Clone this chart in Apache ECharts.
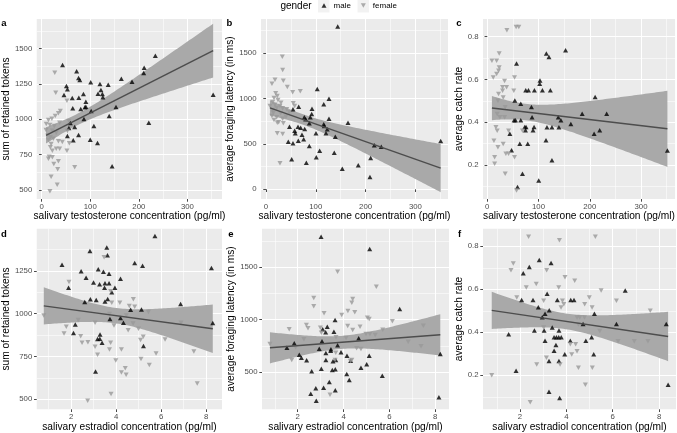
<!DOCTYPE html>
<html><head><meta charset="utf-8">
<script src="https://cdn.jsdelivr.net/npm/echarts@6/dist/echarts.min.js"></script>
<style>html,body{margin:0;padding:0;background:#fff}#c{width:677px;height:433px}</style>
</head><body><div id="c"></div>
<script>
// ---------- data (testosterone pg/ml, estradiol pg/ml, outcome) ----------
const aMale = [[43,1384],[234,1450],[211,1365],[210,1328],[72,1340],[76,1292],[78.5,1278],[51,1236],[53,1212],[46,1172],[63,1151],[76.5,1153],[86,1179],[101,1262],[120,1250],[137,1245],[164,1287],[186,1266],[122,1207],[125,1179],[116,1181],[126,1156],[91,1125],[91,1089],[89,1085],[64,1078],[80.5,1073],[102,1059],[153,1087],[139,1023],[87,1002],[59,974],[68,945],[107.5,953],[56,938],[53,882],[76,889],[65,851],[100,856],[115,832],[220.5,976],[353,1174],[145,667]];
const aFemale = [[27,1330],[29,1188],[52,1132],[38.5,1059],[34.5,1042],[28,1023],[21,1004],[14,995],[56,988],[37,976],[26,952],[17,960],[9,924],[22,919],[30,905],[53,917],[13,887],[18,872],[14,853],[24,863],[34.5,844],[42.5,839],[57,830],[19.5,825],[18,802],[30,791],[37,791],[22,778],[52,778],[15.5,735],[22,731],[34.5,703],[25,684],[14,721],[33,646],[68,660],[19.5,593],[32,537],[17,490],[9.5,967]];
const bMale = [[144,1794],[103,1106],[126.5,999],[116,938],[65.7,911],[54.2,882],[92.4,889],[91.8,831],[89,794],[126.5,779],[77,794],[79.7,772],[164.7,735],[87,728],[116,717],[117,698],[123,662],[64.3,690],[69.7,679],[47.2,690],[77.7,665],[57.6,646],[58.8,617],[100.4,617],[120.5,617],[139.2,580],[72.3,602],[75.7,552],[44.8,525],[64.9,536],[54.2,507],[87,478],[107.8,426],[137.1,404],[217.5,485],[231.5,470],[101,353],[210.2,345],[51.6,331],[81,293],[185.3,265],[153.2,227],[208.8,136],[350.8,533]];
const bFemale = [[32.8,1463],[33.5,1316],[18.1,1209],[34.8,1198],[12,1165],[42.8,1128],[53.6,1070],[68.9,1081],[19.5,1059],[22.7,1029],[16.1,1007],[24.1,985],[13.5,963],[30.1,955],[54.8,949],[57.6,919],[8,919],[18.1,933],[28.1,919],[33.5,893],[21.5,897],[13.5,875],[41.6,882],[29.5,838],[12,808],[21.5,794],[33.5,779],[40.2,801],[16.1,764],[22.7,735],[34.8,728],[22.7,617],[33.5,610],[28.1,287],[46.8,849],[14.7,845],[25.5,739]];
const cMale = [[152.8,0.736],[115.3,0.721],[120.4,0.705],[57.1,0.674],[102.9,0.595],[102.3,0.580],[75.1,0.549],[80.4,0.549],[92,0.549],[107.6,0.549],[123.1,0.549],[53.8,0.502],[65.4,0.487],[86.2,0.471],[87.4,0.423],[185.2,0.440],[138.6,0.423],[143.7,0.409],[163.1,0.392],[52.4,0.409],[55.1,0.409],[65.4,0.409],[73.2,0.378],[75.7,0.378],[74.6,0.363],[91.3,0.378],[89.3,0.363],[116.5,0.377],[126.2,0.377],[139.8,0.377],[44.1,0.347],[114.6,0.316],[63.5,0.300],[79,0.300],[47.4,0.270],[126.2,0.223],[68.7,0.160],[100.4,0.128],[59,0.098],[210.5,0.518],[233,0.44],[208.5,0.347],[219.4,0.363],[351.5,0.268]];
const cFemale = [[38.3,0.829],[56.3,0.845],[61.6,0.845],[23.3,0.721],[9.1,0.687],[18.3,0.687],[23.3,0.656],[22.1,0.640],[18.3,0.625],[11.7,0.609],[53.2,0.609],[33.8,0.593],[37.7,0.563],[29.9,0.563],[29.9,0.547],[51.8,0.547],[22.1,0.532],[31.1,0.516],[20.8,0.500],[35,0.470],[19.4,0.439],[24.7,0.423],[33.8,0.423],[16.9,0.377],[19.4,0.361],[41.6,0.361],[68.7,0.361],[13,0.314],[31.1,0.299],[20.8,0.284],[36.3,0.253],[41.6,0.253],[53.2,0.237],[14.4,0.237],[14.4,0.206],[35,0.160],[57.1,0.082]];
const dMale = [[5.72,1455],[3.58,1387],[3.61,1342],[2.83,1367],[1.59,1287],[4.82,1297],[5.17,1281],[3.2,1260],[2.44,1248],[3.43,1246],[3.68,1234],[8.23,1268],[4.19,1205],[2.66,1211],[1.88,1152],[2.99,1182],[3.26,1172],[3.5,1178],[3.68,1178],[3.48,1152],[3.94,1152],[3.8,1125],[2.6,1069],[2.85,1084],[3.11,1080],[3.62,1086],[3.5,1072],[5.12,1025],[4.64,1023],[6.86,1057],[3.72,969],[4.19,975],[4.32,947],[2.18,937],[2.1,887],[8.29,946],[3.28,879],[3.17,852],[3.27,854],[3.37,830],[5.21,811],[3.08,662]];
const dFemale = [[3.46,1330],[1.9,1186],[3.75,1131],[3.8,1064],[4.16,1064],[4.76,1084],[4.58,1045],[4.82,1041],[5.43,1010],[4.45,990],[3.7,998],[2.31,963],[3.06,947],[3.9,931],[4.75,943],[4.53,904],[4.99,912],[1.78,924],[1.68,885],[2.42,869],[2.74,834],[2.48,830],[3.75,830],[3.06,807],[3.7,791],[4.23,791],[5.08,846],[5.2,865],[6.17,849],[5.77,767],[3.17,760],[5.1,736],[3.98,726],[5.47,701],[4.4,682],[4.23,656],[4.44,643],[3.77,531],[2.73,492],[6.88,947],[7.45,779],[7.6,592],[0.78,990]];
const eMale = [[3.02,1793],[5.14,1675],[6.45,1102],[3.63,997],[3.29,933],[3.09,908],[3.22,880],[3.58,885],[4.66,822],[1.85,775],[1.53,733],[3.06,794],[3.74,755],[2.94,723],[3.45,717],[3.44,704],[3.23,682],[3.89,689],[2.07,666],[2.16,637],[2.39,612],[4.15,656],[3.23,615],[3.54,603],[3.66,615],[5.12,656],[3.64,526],[3.51,520],[3.03,532],[2.61,507],[4.31,608],[5.01,574],[4.76,542],[5.69,465],[4.14,481],[4.25,424],[3.38,405],[3.13,351],[3.64,326],[2.79,345],[2.57,293],[8.22,672],[8.16,259],[2.81,226]];
const eFemale = [[3.74,1458],[5.43,1315],[2.7,1207],[2.7,1128],[4.4,1198],[4.36,1162],[3.15,1061],[3.92,1045],[4.19,1083],[4.49,1071],[5.04,1019],[5.12,1007],[6.13,985],[1.63,908],[2.38,949],[2.45,918],[2.99,924],[4.18,940],[4.72,933],[4.4,902],[4.98,863],[5.15,863],[5.38,854],[5.71,905],[3.03,876],[3.67,832],[4.11,825],[2.27,813],[1.91,736],[4.57,727],[4.76,720],[3.66,685],[4.36,615],[4.3,605],[1.74,615],[3.63,615],[3.41,284],[6.82,790],[7.38,746],[7.48,943],[0.79,768]];
const fMale = [[2.83,0.736],[3.34,0.722],[2.4,0.704],[2.14,0.675],[2.07,0.550],[2.56,0.550],[3.61,0.550],[4.19,0.550],[4.33,0.550],[3.17,0.579],[6.54,0.595],[2.79,0.517],[3.26,0.503],[3.08,0.486],[5.21,0.486],[2.96,0.470],[3.39,0.423],[4.72,0.439],[6.16,0.439],[8.31,0.439],[1.51,0.391],[2.62,0.408],[3.04,0.408],[3.68,0.408],[3.08,0.361],[3.47,0.377],[3.57,0.377],[3.67,0.377],[3.78,0.377],[4.17,0.361],[4.84,0.361],[5.09,0.377],[3.55,0.341],[3.47,0.314],[3.93,0.298],[5.18,0.298],[3.25,0.267],[3.68,0.267],[1.83,0.221],[3.25,0.124],[3.71,0.094],[8.39,0.156]];
const fFemale = [[2.37,0.844],[3.7,0.828],[5.25,0.844],[1.71,0.720],[1.61,0.689],[3.15,0.689],[3.94,0.656],[4.36,0.640],[2.7,0.625],[2.27,0.609],[3.67,0.609],[5.5,0.594],[1.86,0.562],[4.99,0.562],[6.16,0.547],[3.02,0.547],[3.83,0.547],[3.89,0.531],[3.77,0.516],[4.79,0.531],[5.11,0.516],[7.62,0.500],[4.46,0.469],[4.58,0.469],[4.78,0.469],[3.02,0.422],[4.52,0.437],[5.44,0.406],[4.17,0.344],[4.4,0.344],[4.46,0.312],[4.23,0.297],[3.14,0.282],[3.73,0.250],[2.72,0.250],[5.12,0.235],[4.52,0.235],[0.78,0.200],[4.82,0.156],[2.44,0.075],[6.23,0.358],[6.93,0.358],[7.52,0.358]];

// ---------- tick labels / grid breaks ----------
const xTicksT = [0,100,200,300];
const xMinorT = [50,150,250,350];
const xTicksE = [2,4,6,8];
const xMinorE = [1,3,5,7];
const yTicksTokens = [500,750,1000,1250,1500];
const yMinorTokensA = [625,875,1125,1375,1625];
const yMinorTokensD = [625,875,1125,1375];
const yTicksLatB = [0,500,1000,1500];
const yTicksLatE = [500,1000,1500];
const yMinorLat = [250,750,1250,1750];
const yTicksRate = [0.2,0.4,0.6,0.8];
const yMinorRate = [0.1,0.3,0.5,0.7];
const xTitleT = 'salivary testosterone concentration (pg/ml)';
const xTitleE = 'salivary estradiol concentration (pg/ml)';
const yTitles = ['sum of retained tokens','average foraging latency (in ms)','average catch rate'];
const panelLabels = ['a','b','c','d','e','f'];
const legendTitle = 'gender';
const legendNames = ['male','female'];

// ---------- layout ----------
const FONT = 'Liberation Sans, Arial, Helvetica, sans-serif';
const panels = [
  {g:{left:34,top:19,width:188,height:180}, x:[-10.1,371.2], y:[435.7,1710], xt:xTicksT, xm:xMinorT, yt:yTicksTokens, ym:yMinorTokensA, m:aMale, f:aFemale, xn:xTitleT, yn:yTitles[0], yg:22.5, xg:9, lab:[4,23]},
  {g:{left:261,top:19,width:187,height:180}, x:[-10,365.5], y:[-107,1878], xt:xTicksT, xm:xMinorT, yt:yTicksLatB, ym:yMinorLat, m:bMale, f:bFemale, xn:xTitleT, yn:yTitles[1], yg:23.5, xg:9, lab:[229.5,23]},
  {g:{left:483,top:19,width:193,height:180}, x:[-8.3,366.4], y:[0.042,0.882], xt:xTicksT, xm:xMinorT, yt:yTicksRate, ym:yMinorRate, m:cMale, f:cFemale, xn:xTitleT, yn:yTitles[2], yg:15, xg:9, lab:[459,23]},
  {g:{left:34,top:228.7,width:188,height:180.6}, x:[0.467,8.70], y:[441.5,1497], xt:xTicksE, xm:xMinorE, yt:yTicksTokens, ym:yMinorTokensD, m:dMale, f:dFemale, xn:xTitleE, yn:yTitles[0], yg:22.3, xg:8, lab:[4,234.5]},
  {g:{left:262,top:228.7,width:187,height:180.6}, x:[0.443,8.6], y:[144,1869], xt:xTicksE, xm:xMinorE, yt:yTicksLatE, ym:yMinorLat, m:eMale, f:eFemale, xn:xTitleE, yn:yTitles[1], yg:24, xg:8, lab:[231,234.5]},
  {g:{left:483,top:228.7,width:193,height:180.6}, x:[0.403,8.73], y:[0.042,0.882], xt:xTicksE, xm:xMinorE, yt:yTicksRate, ym:yMinorRate, m:fMale, f:fFemale, xn:xTitleE, yn:yTitles[2], yg:16.3, xg:8, lab:[459.5,234]}
];

// ---------- linear model with 95% CI (as geom_smooth(method="lm")) ----------
function tq(df){const z=1.959964;return z+(z**3+z)/(4*df)+(5*z**5+16*z**3+3*z)/(96*df*df);}
function lmFit(pts){
  const n=pts.length;let mx=0,my=0;pts.forEach(p=>{mx+=p[0];my+=p[1];});mx/=n;my/=n;
  let sxx=0,sxy=0;pts.forEach(p=>{sxx+=(p[0]-mx)**2;sxy+=(p[0]-mx)*(p[1]-my);});
  const b=sxy/sxx,a=my-b*mx;let sse=0;pts.forEach(p=>{sse+=(p[1]-a-b*p[0])**2;});
  const s=Math.sqrt(sse/(n-2)),t=tq(n-2);
  let x0=Infinity,x1=-Infinity;pts.forEach(p=>{x0=Math.min(x0,p[0]);x1=Math.max(x1,p[0]);});
  const band=[];
  for(let i=0;i<80;i++){const x=x0+(x1-x0)*i/79;const yh=a+b*x;const se=s*Math.sqrt(1/n+(x-mx)**2/sxx);band.push([x,yh-t*se,yh+t*se]);}
  return {line:[[x0,a+b*x0],[x1,a+b*x1]],band};
}

const grids=[],xAxes=[],yAxes=[],series=[],graphics=[];
const DOWN='path://M0,0L10,0L5,9Z';
panels.forEach((p,i)=>{
  grids.push(Object.assign({show:true,backgroundColor:'#EBEBEB',borderWidth:0,containLabel:false},p.g));
  const common=(ticks,rng)=>({
    gridIndex:i,type:'value',min:rng[0],max:rng[1],
    minInterval:ticks[1]-ticks[0],maxInterval:ticks[1]-ticks[0],
    axisLine:{show:false},
    axisTick:{show:true,length:2.7,inside:false,customValues:ticks,lineStyle:{color:'#333333',width:0.9}},
    axisLabel:{show:true,customValues:ticks,color:'#4D4D4D',fontSize:7.8,fontFamily:FONT,formatter:v=>''+v,showMinLabel:true,showMaxLabel:true},
    splitLine:{show:true,lineStyle:{color:'#FFFFFF',width:1.1}},
    nameLocation:'middle',nameTextStyle:{fontSize:10.2,color:'#000',fontFamily:FONT}
  });
  const xa=common(p.xt,p.x);xa.name=p.xn;xa.nameGap=p.xg;xa.axisLabel.margin=3.5;
  const ya=common(p.yt,p.y);ya.name=p.yn;ya.nameGap=p.yg;ya.nameRotate=90;ya.axisLabel.margin=4.5;
  xAxes.push(xa);yAxes.push(ya);
  const fit=lmFit(p.m.concat(p.f));
  const band=fit.band;
  series.push({type:'custom',xAxisIndex:i,yAxisIndex:i,z:2,silent:true,clip:true,data:band,
    renderItem:(params,api)=>{
      if(params.dataIndex!==0)return null;
      const pts=[];
      for(const b of band)pts.push(api.coord([b[0],b[2]]));
      for(let k=band.length-1;k>=0;k--)pts.push(api.coord([band[k][0],band[k][1]]));
      return {type:'polygon',shape:{points:pts},style:{fill:'#A9A9A9'}};
    }});
  series.push({type:'scatter',name:legendNames[0],xAxisIndex:i,yAxisIndex:i,data:p.m,symbol:'triangle',symbolSize:[5,4.5],itemStyle:{color:'#000000'},z:4,silent:true});
  series.push({type:'scatter',name:legendNames[1],xAxisIndex:i,yAxisIndex:i,data:p.f,symbol:DOWN,symbolSize:[5,4.5],itemStyle:{color:'#999999'},z:4,silent:true});
  series.push({type:'line',xAxisIndex:i,yAxisIndex:i,data:fit.line,symbol:'none',z:5,silent:true,
    lineStyle:{color:'#4D4D4D',width:1.5},
    markLine:{silent:true,z:1,symbol:['none','none'],label:{show:false},animation:false,
      lineStyle:{color:'#FFFFFF',width:0.55,type:'solid',opacity:1},emphasis:{disabled:true},
      data:p.xm.map(v=>({xAxis:v})).concat(p.ym.map(v=>({yAxis:v})))}});
  graphics.push({type:'text',x:p.lab[0],y:p.lab[1],style:{text:panelLabels[i],font:'bold 9.5px '+FONT,fill:'#000',textAlign:'center',textVerticalAlign:'middle',align:'center',verticalAlign:'middle'}});
});
graphics.push({type:'text',x:296,y:6.5,style:{text:legendTitle,font:'10px '+FONT,fill:'#000',textAlign:'center',textVerticalAlign:'middle',align:'center',verticalAlign:'middle'}});
graphics.push({type:'rect',shape:{x:318,y:0,width:11.5,height:12.5},style:{fill:'#F2F2F2'},z:-1});
graphics.push({type:'rect',shape:{x:357.5,y:0,width:11.5,height:12.5},style:{fill:'#F2F2F2'},z:-1});

const chart=echarts.init(document.getElementById('c'),null,{renderer:'canvas'});
chart.setOption({
  animation:false,backgroundColor:'#FFFFFF',
  textStyle:{fontFamily:FONT},
  grid:grids,xAxis:xAxes,yAxis:yAxes,series,
  legend:{left:321.5,top:1.5,padding:0,itemWidth:5,itemHeight:4.5,itemGap:10,selectedMode:false,
    textStyle:{fontSize:8,color:'#000',fontFamily:FONT,padding:[0,0,0,2]},
    data:[{name:legendNames[0],icon:'triangle',itemStyle:{color:'#000'}},{name:legendNames[1],icon:DOWN,itemStyle:{color:'#999999'}}]},
  graphic:graphics
});
</script></body></html>
